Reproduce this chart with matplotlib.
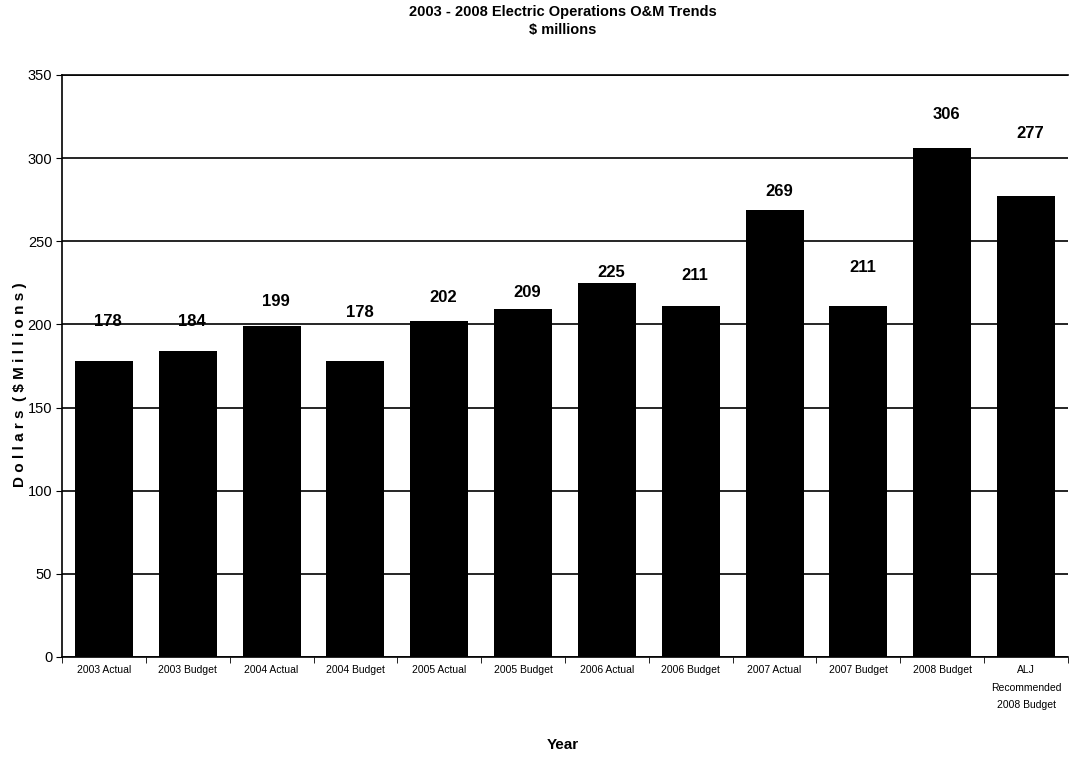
import matplotlib
matplotlib.use("Agg")
import matplotlib.pyplot as plt
from matplotlib.ticker import MultipleLocator, FixedLocator

plt.rcParams['font.family'] = ['Liberation Sans', 'DejaVu Sans']

categories = ["2003 Actual", "2003 Budget", "2004 Actual", "2004 Budget",
              "2005 Actual", "2005 Budget", "2006 Actual", "2006 Budget",
              "2007 Actual", "2007 Budget", "2008 Budget",
              "ALJ\nRecommended\n2008 Budget"]
values = [178, 184, 199, 178, 202, 209, 225, 211, 269, 211, 306, 277]
# vertical placement (data units) of each value label, as placed in the original
label_y = [201.5, 202, 213.5, 207, 216, 219.5, 231.5, 229.7, 280, 234, 326, 315]

fig = plt.figure(figsize=(10.72, 7.58), dpi=100)
ax = fig.add_axes([62/1072, 1-657/758, (1068-62)/1072, (657-75)/758])

x = list(range(len(categories)))
ax.bar(x, values, width=0.69, color='black', zorder=3)
ax.set_xlim(-0.5, len(categories) - 0.5)
ax.set_ylim(0, 350)
ax.yaxis.set_major_locator(MultipleLocator(50))
ax.grid(axis='y', color='black', linewidth=1.2, zorder=0)
ax.set_xticks(x)
ax.set_xticklabels(categories, fontsize=7.5, linespacing=1.9, va='top')
ax.xaxis.set_minor_locator(FixedLocator([i - 0.5 for i in range(len(categories) + 1)]))
ax.tick_params(axis='x', which='major', length=0, pad=6)
ax.tick_params(axis='x', which='minor', length=4, direction='out')
ax.tick_params(axis='y', labelsize=10.5, length=4, direction='out', pad=3)
ax.spines['right'].set_visible(False)
for s in ['top', 'left', 'bottom']:
    ax.spines[s].set_linewidth(1.2)

for xi, v, ly in zip(x, values, label_y):
    ax.text(xi + 0.05, ly, str(v), ha='center', va='center',
            fontsize=12, fontweight='bold', zorder=4)

fig.text(563/1072, 1-12/758, "2003 - 2008 Electric Operations O&M Trends",
         ha='center', va='center', fontsize=10.5, fontweight='bold')
fig.text(563/1072, 1-30/758, "$ millions",
         ha='center', va='center', fontsize=10.5, fontweight='bold')
fig.text(20/1072, 1-385/758, "D o l l a r s  ( $ M i l l i o n s )",
         ha='center', va='center', rotation=90, fontsize=11, fontweight='bold')
fig.text(563/1072, 1-745/758, "Year", ha='center', va='center',
         fontsize=11, fontweight='bold')

fig.savefig("out.png", dpi=100, facecolor='white')
